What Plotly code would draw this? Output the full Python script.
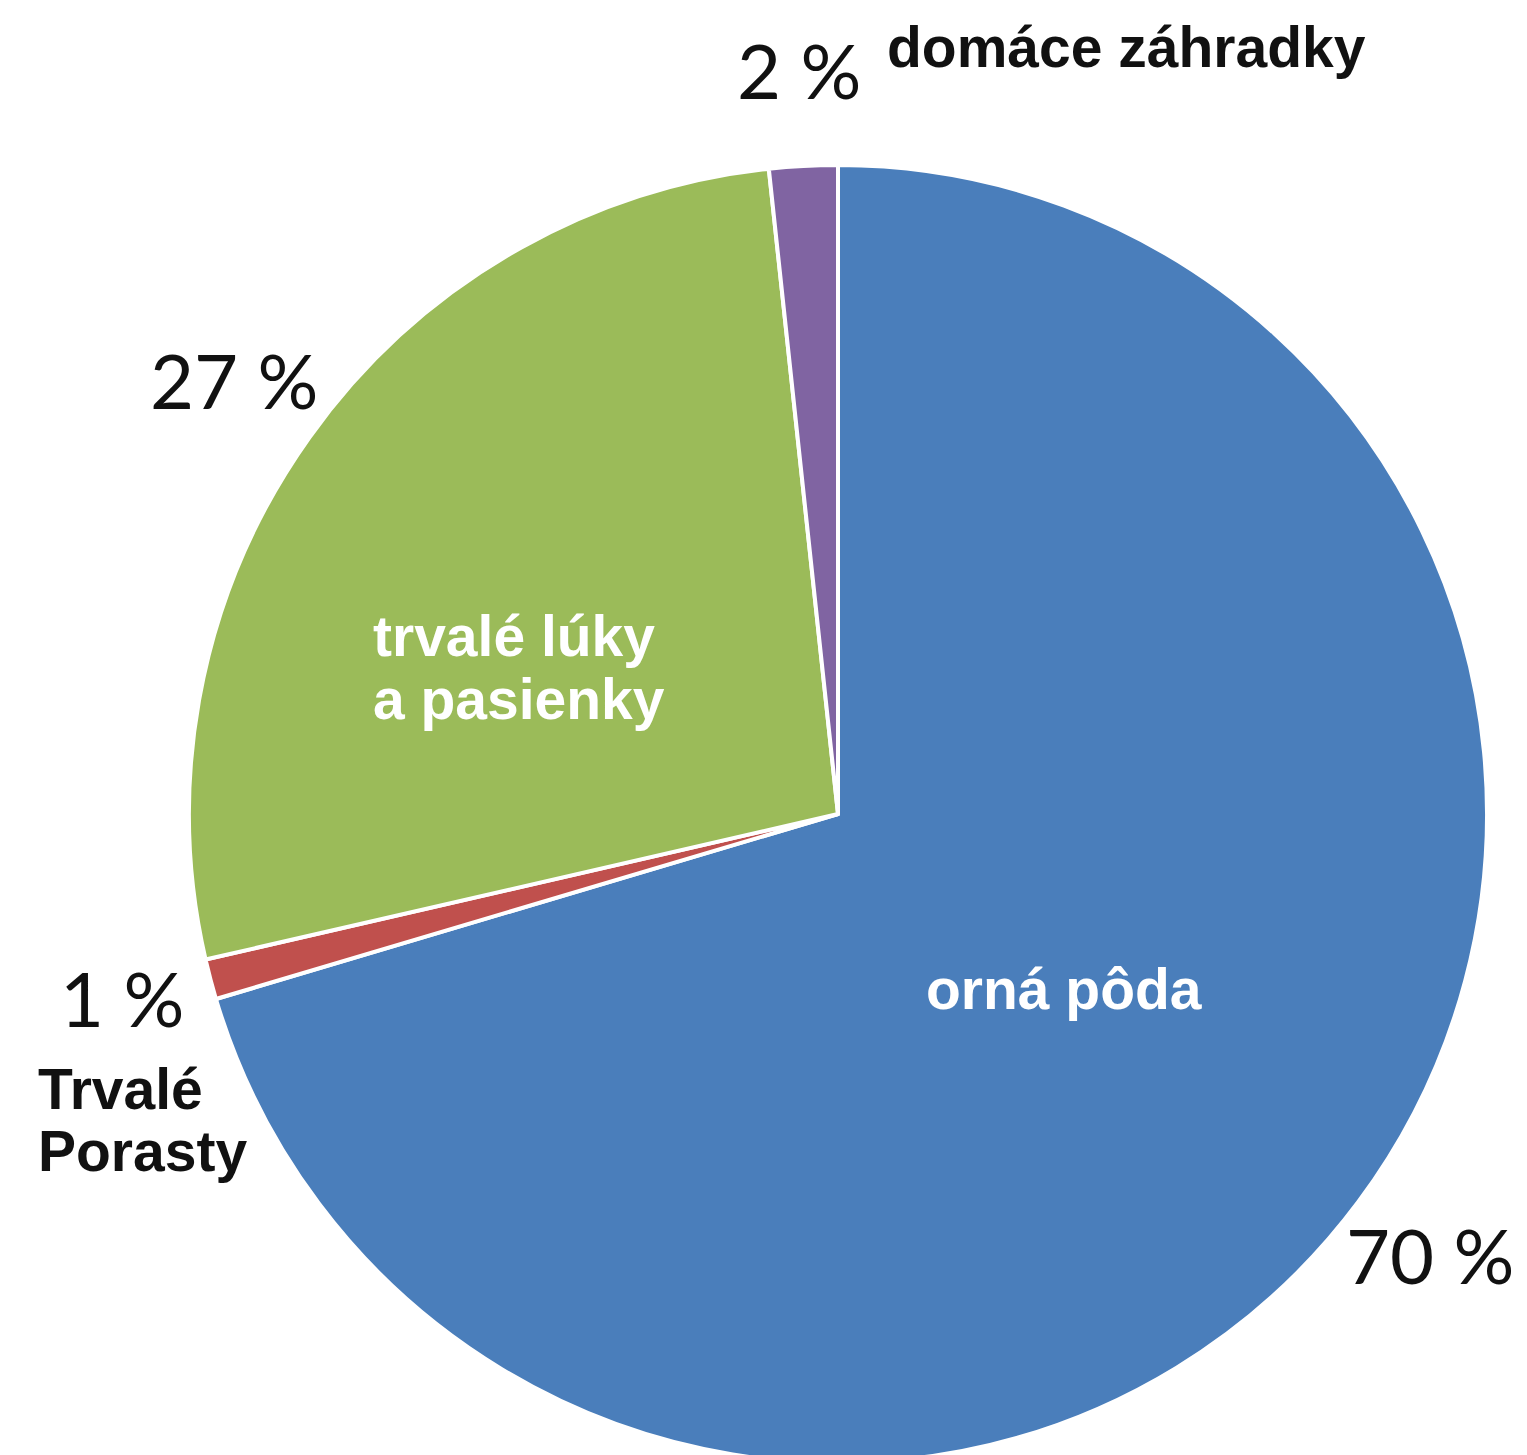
import plotly.graph_objects as go

# Data
categories = ["orná pôda", "Trvalé Porasty", "trvalé lúky a pasienky", "domáce záhradky"]
values = [70.4, 1.0, 26.9, 1.7]
pct_labels = ["70 %", "1 %", "27 %", "2 %"]
colors = ["#4A7EBB", "#C0504D", "#9BBB59", "#8064A2"]

W, H = 1527, 1455

def px(x, y):
    return x / W, 1 - y / H

fig = go.Figure(go.Pie(
    labels=categories,
    values=values,
    sort=False,
    direction="clockwise",
    rotation=0,
    marker=dict(colors=colors, line=dict(color="white", width=4)),
    textinfo="none",
    hoverinfo="label+percent",
    showlegend=False,
    domain=dict(x=[181 / W, 1479 / W], y=[0, 1298 / H]),
))

pct_font = dict(family="Lato, Open Sans, sans-serif", size=76, color="#111111")
bold_black = dict(family="Liberation Sans, Arial, sans-serif", size=57, color="#111111")
bold_white = dict(family="Liberation Sans, Arial, sans-serif", size=57, color="white")

ann = []
def add(text, x, y, font, xanchor="center"):
    xp, yp = px(x, y)
    ann.append(dict(text=text, x=xp, y=yp, xref="paper", yref="paper",
                    xanchor=xanchor, yanchor="middle", showarrow=False, font=font))

add(pct_labels[3], 791, 62, pct_font)
add("<b>domáce záhradky</b>", 1118, 39, bold_black)
add(pct_labels[2], 227, 371, pct_font)
add(pct_labels[1], 114, 989, pct_font)
add("<b>Trvalé</b>", 28, 1081, bold_black, xanchor="left")
add("<b>Porasty</b>", 28, 1143, bold_black, xanchor="left")
add(pct_labels[0], 1422, 1246, pct_font)
add("<b>trvalé lúky</b>", 363, 628, bold_white, xanchor="left")
add("<b>a pasienky</b>", 363, 691, bold_white, xanchor="left")
add("<b>orná pôda</b>", 1056, 981, bold_white)

fig.update_layout(
    width=W, height=H,
    margin=dict(l=0, r=0, t=0, b=0),
    paper_bgcolor="white",
    plot_bgcolor="white",
    annotations=ann,
)

fig.write_html("out.html")
